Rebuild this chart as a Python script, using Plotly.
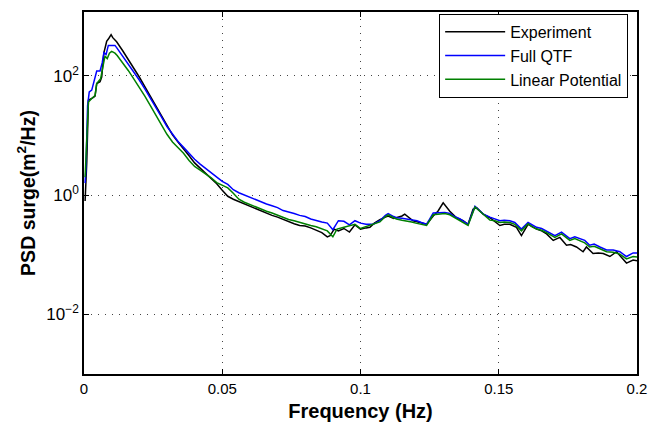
import numpy as np
import plotly.graph_objects as go

# Frequency (Hz) and log10(PSD)
f_exp = [0.0004, 0.001, 0.0016, 0.0022, 0.0028, 0.0034, 0.004, 0.0046, 0.0052, 0.0058, 0.0064,
         0.0072, 0.0078, 0.0082, 0.009, 0.0098, 0.0104, 0.011, 0.0118, 0.014, 0.016, 0.018,
         0.020, 0.022, 0.024, 0.026, 0.028, 0.030, 0.032, 0.034, 0.036, 0.038, 0.040, 0.042,
         0.044, 0.046, 0.048, 0.050, 0.052, 0.054, 0.056, 0.058, 0.060, 0.062, 0.064, 0.066,
         0.068, 0.070, 0.072, 0.074, 0.076, 0.078, 0.080, 0.082, 0.084, 0.086, 0.088, 0.089,
         0.0905, 0.092, 0.094, 0.096, 0.098, 0.100, 0.102, 0.1034, 0.105, 0.107, 0.109, 0.110,
         0.112, 0.113, 0.115, 0.116, 0.118, 0.119, 0.1215, 0.1239, 0.1263, 0.128, 0.1299,
         0.1323, 0.1347, 0.1371, 0.1389, 0.1407, 0.142, 0.1444, 0.1468, 0.1486, 0.1504, 0.152,
         0.154, 0.1564, 0.1582, 0.1606, 0.162, 0.1637, 0.1655, 0.1673, 0.1697, 0.1721, 0.1745,
         0.176, 0.1781, 0.1805, 0.1817, 0.1841, 0.186, 0.1878, 0.1902, 0.1926, 0.1945, 0.1962,
         0.1986, 0.2]
log_exp = [-0.10, 0.55, 1.59, 1.60, 1.62, 1.64, 1.66, 1.87, 1.88, 1.90, 1.98,
           2.39, 2.50, 2.58, 2.63, 2.69, 2.64, 2.61, 2.57, 2.42, 2.28, 2.13,
           1.98, 1.82, 1.66, 1.50, 1.33, 1.16, 1.01, 0.89, 0.78, 0.66, 0.54, 0.45,
           0.37, 0.28, 0.19, 0.08, -0.02, -0.07, -0.11, -0.15, -0.19, -0.23, -0.27, -0.30,
           -0.34, -0.37, -0.41, -0.44, -0.48, -0.51, -0.52, -0.55, -0.59, -0.63, -0.70, -0.68,
           -0.57, -0.60, -0.56, -0.62, -0.50, -0.57, -0.55, -0.54, -0.47, -0.41, -0.37, -0.35,
           -0.39, -0.38, -0.35, -0.32, -0.40, -0.43, -0.46, -0.49, -0.35, -0.27, -0.13,
           -0.27, -0.38, -0.43, -0.49, -0.24, -0.21, -0.32, -0.38, -0.44, -0.51, -0.49,
           -0.49, -0.54, -0.68, -0.49, -0.53, -0.57, -0.60, -0.65, -0.76, -0.71, -0.84,
           -0.83, -0.87, -0.95, -0.87, -0.98, -0.97, -0.98, -1.03, -0.95, -1.05, -1.14,
           -1.09, -1.10]

f_qtf = [0.0004, 0.0007, 0.0013, 0.0019, 0.0028, 0.0036, 0.0046, 0.0058, 0.0066, 0.0072,
         0.008, 0.0088, 0.0112, 0.012, 0.014, 0.016, 0.018, 0.020, 0.022, 0.024, 0.026, 0.028,
         0.030, 0.032, 0.034, 0.036, 0.038, 0.040, 0.042, 0.044, 0.046, 0.048, 0.050, 0.052,
         0.054, 0.056, 0.058, 0.060, 0.062, 0.064, 0.066, 0.068, 0.070, 0.072, 0.074, 0.076,
         0.078, 0.080, 0.082, 0.084, 0.086, 0.088, 0.090, 0.092, 0.094, 0.096, 0.098, 0.100,
         0.102, 0.1046, 0.107, 0.109, 0.110, 0.112, 0.113, 0.115, 0.1168, 0.1185, 0.1204,
         0.122, 0.1239, 0.1263, 0.1287, 0.1305, 0.1323, 0.134, 0.136, 0.1375, 0.1389, 0.1414,
         0.143, 0.1444, 0.1468, 0.1486, 0.1504, 0.152, 0.154, 0.1558, 0.1582, 0.1606, 0.162,
         0.1637, 0.1655, 0.1673, 0.1703, 0.1727, 0.1745, 0.1757, 0.1775, 0.1793, 0.1811,
         0.1829, 0.1845, 0.1866, 0.189, 0.1914, 0.1938, 0.1962, 0.1986, 0.2]
log_qtf = [0.20, 0.44, 1.50, 1.73, 1.76, 1.89, 2.08, 2.08, 2.22, 2.39,
           2.36, 2.51, 2.51, 2.46, 2.33, 2.21, 2.07, 1.93, 1.78, 1.63, 1.47, 1.31,
           1.15, 1.02, 0.90, 0.80, 0.70, 0.60, 0.52, 0.45, 0.38, 0.30, 0.23, 0.18,
           0.09, 0.04, 0.00, -0.04, -0.08, -0.12, -0.15, -0.18, -0.21, -0.26, -0.28, -0.31,
           -0.34, -0.36, -0.40, -0.43, -0.45, -0.47, -0.58, -0.43, -0.44, -0.50, -0.43, -0.47,
           -0.49, -0.49, -0.43, -0.34, -0.31, -0.36, -0.38, -0.39, -0.40, -0.42, -0.43,
           -0.46, -0.49, -0.30, -0.30, -0.29, -0.31, -0.36, -0.40, -0.44, -0.49, -0.19,
           -0.26, -0.32, -0.37, -0.40, -0.43, -0.42, -0.43, -0.46, -0.57, -0.46, -0.50,
           -0.54, -0.56, -0.60, -0.68, -0.62, -0.68, -0.73, -0.70, -0.73, -0.76,
           -0.84, -0.82, -0.87, -0.92, -0.92, -0.95, -1.03, -0.97, -0.97]

f_lin = [0.0004, 0.0007, 0.0016, 0.0028, 0.004, 0.0046, 0.006, 0.007, 0.0076, 0.0084,
         0.0092, 0.0100, 0.0112, 0.012, 0.014, 0.016, 0.018, 0.020, 0.022, 0.024, 0.026,
         0.028, 0.030, 0.032, 0.034, 0.036, 0.038, 0.040, 0.042, 0.044, 0.046, 0.048, 0.050,
         0.052, 0.054, 0.056, 0.058, 0.060, 0.062, 0.064, 0.066, 0.068, 0.070, 0.072, 0.074,
         0.076, 0.078, 0.080, 0.082, 0.084, 0.086, 0.088, 0.090, 0.0915, 0.094, 0.096, 0.098,
         0.100, 0.102, 0.1034, 0.105, 0.107, 0.109, 0.110, 0.112, 0.113, 0.115, 0.1168,
         0.1185, 0.120, 0.122, 0.1239, 0.1263, 0.1287, 0.1305, 0.1323, 0.134, 0.136, 0.1375,
         0.1389, 0.1414, 0.143, 0.1444, 0.1468, 0.1486, 0.1504, 0.152, 0.154, 0.1558, 0.1582,
         0.1606, 0.162, 0.1637, 0.1655, 0.1673, 0.1703, 0.1727, 0.1745, 0.1757, 0.1775,
         0.1793, 0.1811, 0.1829, 0.1845, 0.1866, 0.189, 0.1914, 0.1938, 0.1962, 0.1986, 0.2]
log_lin = [0.30, 0.66, 1.56, 1.62, 1.67, 1.87, 1.95, 2.19, 2.33, 2.29,
           2.38, 2.41, 2.38, 2.34, 2.22, 2.09, 1.95, 1.81, 1.66, 1.50, 1.34,
           1.18, 1.02, 0.89, 0.79, 0.70, 0.58, 0.48, 0.42, 0.36, 0.29, 0.21, 0.16,
           0.12, 0.03, -0.07, -0.12, -0.16, -0.20, -0.24, -0.27, -0.30, -0.34, -0.37, -0.41,
           -0.43, -0.46, -0.48, -0.51, -0.53, -0.56, -0.60, -0.70, -0.57, -0.54, -0.51, -0.49,
           -0.56, -0.53, -0.51, -0.49, -0.45, -0.36, -0.33, -0.38, -0.40, -0.42, -0.43,
           -0.45, -0.47, -0.49, -0.51, -0.33, -0.32, -0.31, -0.33, -0.38, -0.43, -0.47,
           -0.51, -0.20, -0.27, -0.33, -0.42, -0.43, -0.46, -0.45, -0.46, -0.49, -0.60,
           -0.48, -0.53, -0.57, -0.59, -0.63, -0.71, -0.65, -0.71, -0.76, -0.73,
           -0.76, -0.80, -0.87, -0.86, -0.90, -0.95, -0.96, -0.99, -1.07, -1.03, -1.04]

series_names = ["Experiment", "Full QTF", "Linear Potential"]
x_ticks = [0, 0.05, 0.1, 0.15, 0.2]
x_tick_labels = ["0", "0.05", "0.1", "0.15", "0.2"]
y_ticks = [1e-2, 1, 1e2]
y_tick_labels = ["10<sup>−2</sup>", "10<sup>0</sup>", "10<sup>2</sup>"]

colors = ["#000000", "#0000ff", "#008000"]
data = [(f_exp, log_exp), (f_qtf, log_qtf), (f_lin, log_lin)]

FONT = "Liberation Sans, Arial"

fig = go.Figure()
for (fx, ly), name, c in zip(data, series_names, colors):
    fig.add_trace(go.Scatter(x=fx, y=np.power(10.0, ly), mode="lines", name=name,
                             line=dict(color=c, width=1.5)))

axis_common = dict(showline=True, linecolor="black", linewidth=1.5, mirror="ticks",
                   ticks="inside", ticklen=5, tickcolor="black",
                   showgrid=True, gridcolor="#444444", griddash="1px,6px", gridwidth=1,
                   zeroline=False)

fig.update_xaxes(range=[0, 0.2], tickvals=x_ticks, ticktext=x_tick_labels,
                 tickfont=dict(family=FONT, size=15, color="black"),
                 title=dict(text="<b>Frequency (Hz)</b>", font=dict(family=FONT, size=20, color="black"), standoff=8),
                 **axis_common)
fig.update_yaxes(type="log", range=[-3, 3.07], tickvals=y_ticks, ticktext=y_tick_labels,
                 tickfont=dict(family=FONT, size=17, color="black"),
                 title=dict(text="<b>PSD surge(m<sup>2</sup>/Hz)</b>", font=dict(family=FONT, size=19.5, color="black"), standoff=6),
                 **axis_common)

fig.update_layout(
    width=662, height=429,
    margin=dict(l=84, r=25, t=10, b=49),
    plot_bgcolor="white", paper_bgcolor="white",
    font=dict(family=FONT, color="black"),
    legend=dict(x=0.984, y=0.995, xanchor="right", yanchor="top",
                bgcolor="white", bordercolor="black", borderwidth=1,
                font=dict(family=FONT, size=16, color="black"),
                itemwidth=60, tracegroupgap=0),
    showlegend=True,
)

fig.write_html("out.html")
